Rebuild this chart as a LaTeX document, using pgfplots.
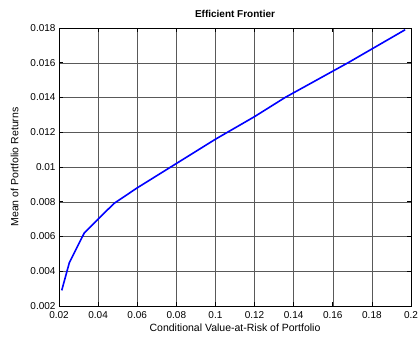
\documentclass[border=0pt]{standalone}
\usepackage{fontspec}
\setmainfont{Liberation Sans}
\usepackage{pgfplots}
\pgfplotsset{compat=1.18}
\begin{document}
\begin{tikzpicture}[x=1pt,y=1pt]
\useasboundingbox (-59pt,-32pt) rectangle (360pt,306pt);
\begin{axis}[
  at={(0pt,0pt)}, anchor=south west,
  width=352pt, height=278pt, scale only axis=true,
  xmin=0.02, xmax=0.2, ymin=0.002, ymax=0.018,
  xtick={0.02,0.04,...,0.2}, ytick={0.002,0.004,...,0.018},
  scaled ticks=false,
  /pgf/number format/assume math mode=true,
  /pgf/number format/.cd, fixed, precision=3, /pgfplots/.cd,
  ticklabel style={font=\fontsize{10}{12}\selectfont},
  tick align=inside, tick pos=both,
  major tick length=4pt,
  every tick/.style={black, line width=0.6pt},
  grid=major,
  major grid style={gray!70!black, line width=0.5pt},
  axis line style={black, line width=0.8pt},
  title={\textbf{Efficient Frontier}},
  title style={font=\fontsize{10}{12}\selectfont, yshift=1pt},
  xlabel={Conditional Value-at-Risk of Portfolio},
  ylabel={Mean of Portfolio Returns},
  label style={font=\fontsize{10.5}{12}\selectfont},
  xlabel style={yshift=2pt},
  ylabel style={yshift=5pt},
  xticklabel style={yshift=-2pt},
]
\addplot[blue, line width=1.6pt] coordinates {
 (0.0214,0.0029) (0.0253,0.0045) (0.0329,0.0062) (0.0400,0.0070) (0.0481,0.0079)
 (0.060,0.0088) (0.070,0.0095) (0.080,0.0102) (0.100,0.0116) (0.120,0.0129)
 (0.1356,0.0140) (0.1678,0.0160) (0.197,0.0179)
};
\end{axis}
\end{tikzpicture}
\end{document}
